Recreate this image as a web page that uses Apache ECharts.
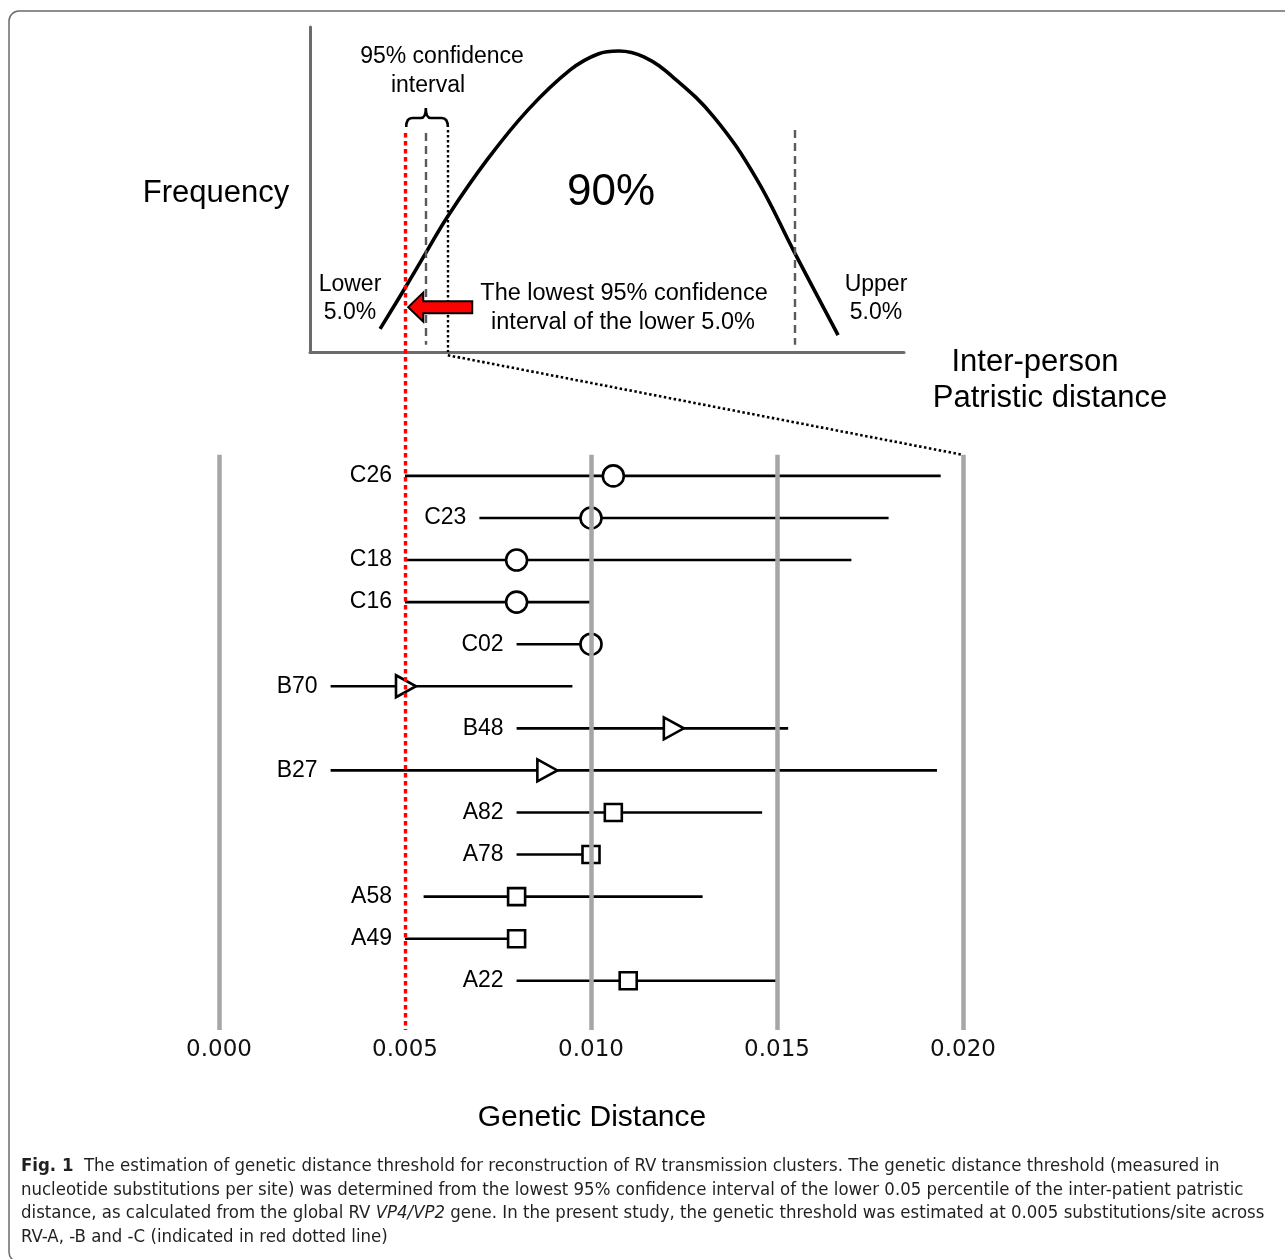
<!DOCTYPE html>
<html>
<head>
<meta charset="utf-8">
<script src="https://cdn.jsdelivr.net/npm/echarts@6/dist/echarts.min.js"></script>
<style>
  html, body { margin: 0; padding: 0; background: #fff; }
  #chart { width: 1285px; height: 1259px; }
</style>
</head>
<body>
<div id="chart"></div>
<script>
// upper panel: schematic frequency curve (arbitrary units, 0-100 on both axes)
const curveX = [11.8, 16.2, 19.7, 23.2, 29.8, 36.7, 43.8, 48.5, 52.0, 56.2, 61.1, 68.0, 75.1, 81.6, 88.9];
const curveY = [7.1, 20.3, 31.1, 41.8, 59.1, 74.5, 86.8, 91.7, 92.6, 90.8, 84.6, 72.3, 53.5, 30.5, 5.2];
const ciLow = 16.2;    // lowest 95% CI of the lower 5%
const lower5 = 19.5;   // lower 5% cut
const ciHigh = 23.2;   // upper end of the CI
const upper5 = 81.6;   // upper 5% cut

// lower panel: genetic distance per cluster
const clusters = ['C26', 'C23', 'C18', 'C16', 'C02', 'B70', 'B48', 'B27', 'A82', 'A78', 'A58', 'A49', 'A22'];
const lowerCI  = [0.0050, 0.0070, 0.0050, 0.0050, 0.0080, 0.0030, 0.0080, 0.0030, 0.0080, 0.0080, 0.0055, 0.0050, 0.0080];
const upperCI  = [0.0194, 0.0180, 0.0170, 0.0100, 0.0100, 0.0095, 0.0153, 0.0193, 0.0146, 0.0100, 0.0130, 0.0080, 0.0150];
const estimate = [0.0106, 0.0100, 0.0080, 0.0080, 0.0100, 0.0050, 0.0122, 0.0088, 0.0106, 0.0100, 0.0080, 0.0080, 0.0110];
const gridLines = [0.000, 0.010, 0.015, 0.020];
const threshold = 0.005;
const rowMin = -8.15, rowMax = 13.17;   // lower panel vertical range (row index units)

const ARIAL = '"Liberation Sans", Arial, sans-serif';
const chart = echarts.init(document.getElementById('chart'));

function txt(text, x, y, size, extra) {
  return Object.assign({
    type: 'text', silent: true,
    style: { text: text, x: x, y: y, fontSize: size, fontFamily: ARIAL, fill: '#000',
             align: 'center', textAlign: 'center', verticalAlign: 'middle', textVerticalAlign: 'middle' }
  }, extra || {});
}

// caption sized to fit the text block width
const capFamily = '"Liberation Sans Narrow", "DejaVu Sans Condensed", "Liberation Sans", sans-serif';
const capLines = [
  '{b|Fig. 1}  The estimation of genetic distance threshold for reconstruction of RV transmission clusters. The genetic distance threshold (measured in',
  'nucleotide substitutions per site) was determined from the lowest 95% confidence interval of the lower 0.05 percentile of the inter-patient patristic',
  'distance, as calculated from the global RV {i|VP4/VP2} gene. In the present study, the genetic threshold was estimated at 0.005 substitutions/site across',
  'RV-A, -B and -C (indicated in red dotted line)'
];
const ctx = document.createElement('canvas').getContext('2d');
ctx.font = '20px ' + capFamily;
const widest = Math.max.apply(null, capLines.map(function (t) {
  return ctx.measureText(t.replace(/\{\w\|([^}]*)\}/g, '$1')).width;
}));
const capSize = 20 * 1244 / widest;
const capY = [1166, 1190, 1213, 1237];
const capText = capLines.map(function (t, i) {
  return {
    type: 'text', silent: true,
    style: {
      text: t, x: 21, y: capY[i], fontSize: capSize, fontFamily: capFamily, fill: '#231f20',
      align: 'left', textAlign: 'left', verticalAlign: 'middle', textVerticalAlign: 'middle',
      rich: {
        b: { fontSize: capSize, fontFamily: capFamily, fontWeight: 'bold', fill: '#231f20' },
        i: { fontSize: capSize, fontFamily: capFamily, fontStyle: 'italic', fill: '#231f20' }
      }
    }
  };
});

const rows = clusters.map(function (n, i) { return [lowerCI[i], upperCI[i], estimate[i], i]; });

function renderRow(params, api) {
  const i = params.dataIndex;
  const lo = api.coord([api.value(0), api.value(3)]);
  const hi = api.coord([api.value(1), api.value(3)]);
  const est = api.coord([api.value(2), api.value(3)]);
  const name = clusters[i];
  // labels of rows starting close to the threshold line sit against it
  const anchorVal = Math.abs(api.value(0) - threshold) < 0.001 ? threshold : api.value(0);
  const anchor = api.coord([anchorVal, api.value(3)]);
  const cy = lo[1];
  let marker;
  const mstyle = { fill: '#fff', stroke: '#000', lineWidth: 2.6 };
  if (name[0] === 'C') {
    marker = { type: 'circle', shape: { cx: est[0], cy: cy, r: 10.5 }, style: mstyle };
  } else if (name[0] === 'B') {
    marker = { type: 'polygon', shape: { points: [[est[0] - 9, cy - 11], [est[0] + 11, cy], [est[0] - 9, cy + 11]] }, style: mstyle };
  } else {
    marker = { type: 'rect', shape: { x: est[0] - 8.5, y: cy - 8.5, width: 17, height: 17 }, style: mstyle };
  }
  return {
    type: 'group',
    children: [
      { type: 'line', shape: { x1: lo[0], y1: cy, x2: hi[0], y2: cy }, style: { stroke: '#000', lineWidth: 2.6 } },
      marker,
      { type: 'text', style: { text: name, x: anchor[0] - 13, y: cy, fontSize: 23, fontFamily: ARIAL, fill: '#000',
          align: 'right', textAlign: 'right', verticalAlign: 'middle', textVerticalAlign: 'middle' } }
    ]
  };
}

chart.setOption({
  animation: false,
  grid: [
    { left: 310, top: 27, width: 594, height: 325 },
    { left: 219, top: 133, width: 744, height: 897 }
  ],
  xAxis: [
    { gridIndex: 0, type: 'value', min: 0, max: 100,
      axisLine: { show: true, onZero: false, lineStyle: { color: '#6b6b6b', width: 3 } },
      axisTick: { show: false }, axisLabel: { show: false }, splitLine: { show: false } },
    { gridIndex: 1, type: 'value', min: 0, max: 0.02, interval: 0.005,
      axisLine: { show: false }, axisTick: { show: false }, splitLine: { show: false },
      axisLabel: { formatter: function (v) { return v.toFixed(3); }, fontSize: 23,
                   fontFamily: '"DejaVu Sans", sans-serif', color: '#111', margin: 9 } }
  ],
  yAxis: [
    { gridIndex: 0, type: 'value', min: 0, max: 100,
      axisLine: { show: true, onZero: false, lineStyle: { color: '#6b6b6b', width: 3 } },
      axisTick: { show: false }, axisLabel: { show: false }, splitLine: { show: false } },
    { gridIndex: 1, type: 'value', min: rowMin, max: rowMax, inverse: true, show: false }
  ],
  series: [
    { id: 'curve', type: 'line', xAxisIndex: 0, yAxisIndex: 0, smooth: 0.4, symbol: 'none',
      data: curveX.map(function (x, i) { return [x, curveY[i]]; }),
      lineStyle: { color: '#000', width: 3.6 }, z: 3,
      markLine: {
        silent: true, symbol: 'none', label: { show: false },
        data: [
          [{ coord: [lower5, 67.4], lineStyle: { color: '#5a5a5a', width: 2.4, type: [8, 5] } }, { coord: [lower5, 2.2] }],
          [{ coord: [ciHigh, 68.3], lineStyle: { color: '#000', width: 2.4, type: [2.5, 2.5] } }, { coord: [ciHigh, 0] }],
          [{ coord: [upper5, 68.3], lineStyle: { color: '#5a5a5a', width: 2.4, type: [8, 5] } }, { coord: [upper5, 2.2] }]
        ]
      }
    },
    { id: 'brace', type: 'custom', xAxisIndex: 0, yAxisIndex: 0, data: [[ciLow, ciHigh, lower5]], z: 4,
      renderItem: function (params, api) {
        const a = api.coord([api.value(0), 72]);
        const b = api.coord([api.value(1), 72]);
        const m = api.coord([api.value(2), 72]);
        const y = a[1];
        const d = 'M' + a[0] + ',' + (y + 9) + ' Q' + a[0] + ',' + y + ' ' + (a[0] + 6) + ',' + y +
                  ' L' + (m[0] - 5) + ',' + y + ' Q' + m[0] + ',' + y + ' ' + m[0] + ',' + (y - 10) +
                  ' Q' + m[0] + ',' + y + ' ' + (m[0] + 5) + ',' + y +
                  ' L' + (b[0] - 6) + ',' + y + ' Q' + b[0] + ',' + y + ' ' + b[0] + ',' + (y + 9);
        return { type: 'path', shape: { pathData: d }, style: { fill: 'none', stroke: '#000', lineWidth: 2.6 } };
      }
    },
    { id: 'arrow', type: 'custom', xAxisIndex: 0, yAxisIndex: 0, data: [[ciLow, 13.8]], z: 6,
      renderItem: function (params, api) {
        const p = api.coord([api.value(0), api.value(1)]);
        const tx = p[0] + 2, ty = p[1];
        return { type: 'polygon',
          shape: { points: [[tx, ty], [tx + 15, ty - 14.5], [tx + 15, ty - 6], [tx + 64, ty - 6],
                            [tx + 64, ty + 6], [tx + 15, ty + 6], [tx + 15, ty + 14.5]] },
          style: { fill: '#ff0000', stroke: '#000', lineWidth: 2 } };
      }
    },
    { id: 'guides', type: 'line', xAxisIndex: 1, yAxisIndex: 1, data: [], z: 1,
      markLine: {
        silent: true, symbol: 'none', label: { show: false },
        lineStyle: { color: '#a6a6a6', width: 4.5, type: 'solid' },
        data: gridLines.map(function (v) { return [{ coord: [v, -0.5] }, { coord: [v, rowMax] }]; })
      }
    },
    { id: 'rows', type: 'custom', xAxisIndex: 1, yAxisIndex: 1, data: rows, renderItem: renderRow, z: 2 },
    { id: 'threshold', type: 'line', xAxisIndex: 1, yAxisIndex: 1, data: [], z: 8,
      markLine: {
        silent: true, symbol: 'none', label: { show: false },
        lineStyle: { color: '#ff0000', width: 3.4, type: [4.5, 3.5] },
        data: [[{ coord: [threshold, rowMin] }, { coord: [threshold, rowMax] }]]
      }
    }
  ],
  graphic: [
    { type: 'rect', silent: true, z: -10, shape: { x: 9, y: 11, width: 1300, height: 1251, r: 10 },
      style: { fill: 'none', stroke: '#6b6b6b', lineWidth: 1.5 } },
    txt('95% confidence', 442, 57, 23),
    txt('interval', 428, 86, 23),
    txt('Frequency', 216, 193, 31),
    txt('90%', 611, 193, 44),
    txt('Lower', 350, 285, 23),
    txt('5.0%', 350, 313, 23),
    txt('Upper', 876, 285, 23),
    txt('5.0%', 876, 313, 23),
    txt('The lowest 95% confidence', 624, 294, 23.5),
    txt('interval of the lower 5.0%', 623, 323, 23.5),
    txt('Inter-person', 1035, 362, 31),
    txt('Patristic distance', 1050, 398, 31),
    txt('Genetic Distance', 592, 1118, 30)
  ].concat(capText)
});

// dotted zoom connector: from the upper end of the CI in the top panel to 0.020 in the lower panel
const start = chart.convertFromPixel({ gridIndex: 1 }, chart.convertToPixel({ gridIndex: 0 }, [ciHigh, -1]));
chart.setOption({
  series: [{
    id: 'connector', type: 'line', xAxisIndex: 1, yAxisIndex: 1, symbol: 'none', silent: true, z: 3,
    data: [start, [0.020, -0.5]],
    lineStyle: { color: '#000', width: 2.6, type: [2.5, 2.5] }
  }]
});
</script>
</body>
</html>
